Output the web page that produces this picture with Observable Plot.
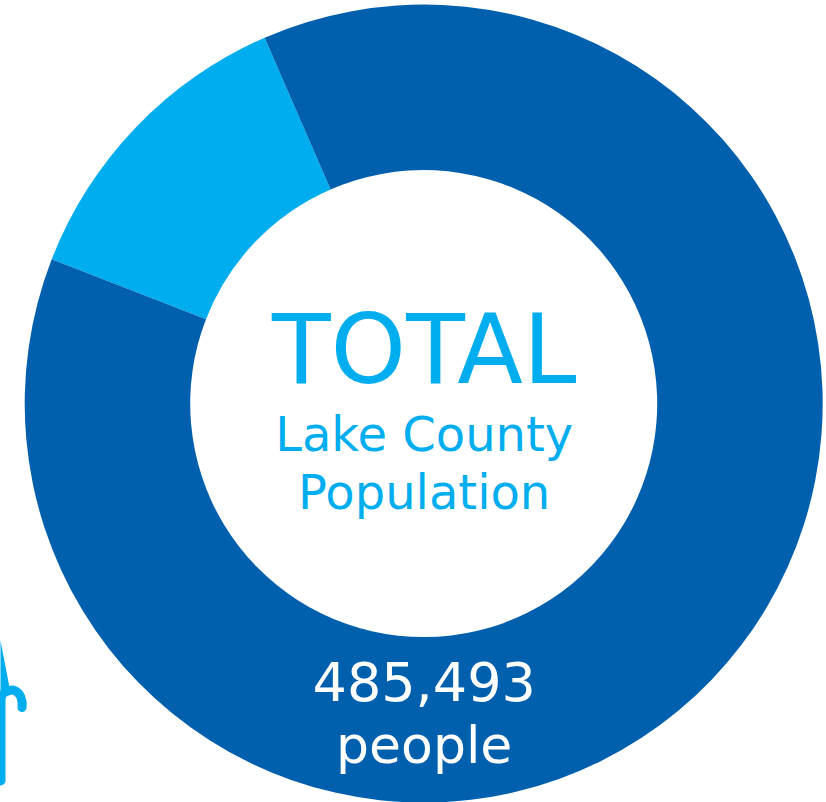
<!DOCTYPE html>
<html>
<head>
<meta charset="utf-8">
<script src="https://cdn.jsdelivr.net/npm/d3@7"></script>
<script src="https://cdn.jsdelivr.net/npm/@observablehq/plot@0.6"></script>
<style>
  html, body { margin: 0; padding: 0; background: #fff; overflow: hidden; }
  svg { display: block; }
</style>
</head>
<body>
<div id="chart"></div>
<script>
// Population split shown by the ring (estimated shares of the county total)
const groups = ["Minority group", "Remainder"];
const people = [61100, 424393];
const groupColors = ["#00aeef", "#0060ae"];

// Centre and bottom-band labels
const labelLines = ["TOTAL", "Lake County", "Population", "485,493", "people"];
const labelSizes = [96, 48, 48, 54, 52];
const labelColors = ["#00aeef", "#00aeef", "#00aeef", "#fff", "#fff"];
const labelOffsets = [-49, 34, 92, 282, 345];

// Part of a neighbouring figure's walking cane, cut off at the left edge
const caneStemX = [0, 0];
const caneStemY = [697, 780];
const caneHookX = [4, 12, 19, 21.5, 21.5];
const caneHookY = [692, 689.5, 694, 701, 707];
const caneWedgeX = [0, 9, 5, 0];
const caneWedgeY = [640, 687, 698, 698];

const total = d3.sum(people);
const rows = groups.map((name, i) => ({
  name,
  start: d3.sum(people.slice(0, i)),
  end: d3.sum(people.slice(0, i + 1))
}));
const labels = labelLines.map((text, i) => ({
  text, size: labelSizes[i], color: labelColors[i], offset: labelOffsets[i]
}));

const startAngle = -68.8 * Math.PI / 180;

// Bars on an angular x scale, drawn as ring sectors
function ringSectors(index, scales, values) {
  const arc = d3.arc().innerRadius(233.5).outerRadius(399);
  const g = d3.create("svg:g").attr("transform", "translate(423.7,403.6)");
  for (const i of index) {
    g.append("path")
      .attr("d", arc({startAngle: values.x1[i], endAngle: values.x2[i]}))
      .attr("fill", values.fill[i]);
  }
  return g.node();
}

const pixels = (value) => ({value, scale: null});

const textMarks = labels.map((d) =>
  Plot.text([d], {
    text: "text",
    frameAnchor: "middle",
    dx: 10.7,
    dy: d.offset,
    fontSize: d.size,
    fill: d.color,
    fontFamily: "DejaVu Sans"
  })
);

const plot = Plot.plot({
  width: 826,
  height: 802,
  margin: 0,
  style: {background: "#fff"},
  x: {domain: [0, total], range: [startAngle, startAngle + 2 * Math.PI], axis: null},
  color: {domain: groups, range: groupColors},
  marks: [
    Plot.barX(rows, {x1: "start", x2: "end", fill: "name", render: ringSectors}),
    Plot.line(caneWedgeX, {
      x: pixels(caneWedgeX), y: pixels(caneWedgeY), z: null,
      fill: "#00aeef", stroke: "none"
    }),
    Plot.line(caneStemX, {
      x: pixels(caneStemX), y: pixels(caneStemY),
      stroke: "#00aeef", strokeWidth: 10, strokeLinecap: "round"
    }),
    Plot.line(caneHookX, {
      x: pixels(caneHookX), y: pixels(caneHookY),
      stroke: "#00aeef", strokeWidth: 9, strokeLinecap: "round", curve: "catmull-rom"
    }),
    ...textMarks
  ]
});

document.getElementById("chart").append(plot);
</script>
</body>
</html>
